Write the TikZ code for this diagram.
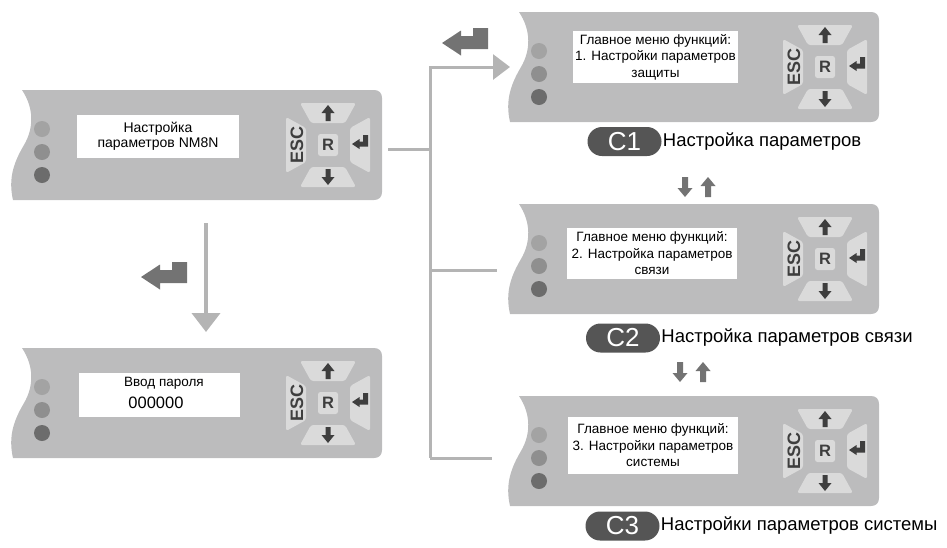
\documentclass[tikz,border=0pt]{standalone}
\usepackage{fontspec}
\setmainfont{Liberation Sans}
\usetikzlibrary{arrows.meta,shapes.misc}

\definecolor{panelgray}{HTML}{BCBCBD}
\definecolor{keygray}{HTML}{DADADA}
\definecolor{glyphgray}{HTML}{3E3E3E}
\definecolor{dotA}{HTML}{A3A3A3}
\definecolor{dotB}{HTML}{8F8F8F}
\definecolor{dotC}{HTML}{6C6C6C}
\definecolor{wiregray}{HTML}{B4B4B4}
\definecolor{entergray}{HTML}{737373}
\definecolor{pillgray}{HTML}{555555}

\tikzset{
  pics/keypad/.style={code={
    % four trapezoid keys around the R key
    \fill[keygray, rounded corners=2.5pt] (-28,-42) -- (28,-42) -- (17,-22) -- (-17,-22) -- cycle;
    \fill[keygray, rounded corners=2.5pt] (-28,42) -- (28,42) -- (17,22) -- (-17,22) -- cycle;
    \fill[keygray, rounded corners=2.5pt] (-42,-28) -- (-42,28) -- (-22,17) -- (-22,-17) -- cycle;
    \fill[keygray, rounded corners=2.5pt] (42,-28) -- (42,28) -- (22,17) -- (22,-17) -- cycle;
    \fill[keygray, rounded corners=2.5pt] (-10,-11) rectangle (10,11);
    % key symbols
    \fill[glyphgray] (0,-40) -- (6.5,-32) -- (2.5,-32) -- (2.5,-24) -- (-2.5,-24) -- (-2.5,-32) -- (-6.5,-32) -- cycle;
    \fill[glyphgray] (0,40) -- (6.5,32) -- (2.5,32) -- (2.5,24) -- (-2.5,24) -- (-2.5,32) -- (-6.5,32) -- cycle;
    \fill[glyphgray] (24,-1) -- (31.5,-6) -- (31.5,-3.5) -- (35,-3.5) -- (35,-10) -- (40,-10) -- (40,1.5) -- (31.5,1.5) -- (31.5,4) -- cycle;
    \node[text=glyphgray, rotate=90, inner sep=0pt, font=\fontsize{18}{18}\bfseries\selectfont] at (-31,0) {ESC};
    \node[text=glyphgray, inner sep=0pt, font=\fontsize{16.5}{16.5}\bfseries\selectfont] at (0,0) {R};
  }},
  pics/device/.style={code={
    % housing with the wavy left edge
    \fill[panelgray] (0,0) .. controls (12,18) and (12,38) .. (2,55)
      .. controls (-8,72) and (-14,88) .. (-9,110) -- (352,110)
      .. controls (357,110) and (360,107) .. (360,102) -- (360,8)
      .. controls (360,3) and (357,0) .. (352,0) -- cycle;
    % status lamps
    \fill[dotA] (20,39) circle[radius=8pt];
    \fill[dotB] (20,62) circle[radius=8pt];
    \fill[dotC] (20,85) circle[radius=8pt];
    \pic at (306,55) {keypad};
  }},
  pics/bigenter/.style={code={
    \fill[entergray] (0,0) -- (19,-12.5) -- (19,-7) -- (31,-7) -- (31,-15) -- (46,-15)
      -- (46,6) -- (19,6) -- (19,12.5) -- cycle;
  }},
  pics/downarrow/.style={code={
    \fill[entergray] (0,10) -- (7.5,1) -- (3,1) -- (3,-10) -- (-3,-10) -- (-3,1) -- (-7.5,1) -- cycle;
  }},
  pics/uparrow/.style={code={
    \fill[entergray] (0,-10) -- (7.5,-1) -- (3,-1) -- (3,10) -- (-3,10) -- (-3,-1) -- (-7.5,-1) -- cycle;
  }},
  screen/.style={fill=white, inner sep=0pt, align=center,
    font=\fontsize{13.5}{16.5}\selectfont},
  wire/.style={draw=wiregray, line width=3pt},
  pill/.style={rounded rectangle, fill=pillgray, text=white, minimum width=74pt,
    minimum height=29pt, inner sep=0pt, font=\fontsize{26}{26}\selectfont},
  caption/.style={anchor=west, inner sep=1pt, font=\fontsize{18.5}{20}\selectfont},
}

\begin{document}
\begin{tikzpicture}[x=1pt,y=-1pt]
\useasboundingbox (0,0) rectangle (947,547);

% devices
\pic at (22,90) {device};
\pic at (22,348) {device};
\pic at (519,12) {device};
\pic at (519,204) {device};
\pic at (519,396) {device};

% displays
\node[screen, minimum width=162pt, minimum height=43pt, font=\fontsize{14}{14.5}\selectfont]
  (scrA) at (158,136.5) {Настройка\\параметров NM8N};
\node[screen, minimum width=161pt, minimum height=44pt] (scrB) at (159.5,395) {};
\node[inner sep=0pt, font=\fontsize{13.5}{14}\selectfont] (pwlabel) at (164,383) {Ввод пароля};
\node[inner sep=0pt, font=\fontsize{16.5}{17}\selectfont] (pwvalue) at (156,403) {000000};
\node[screen, minimum width=165pt, minimum height=52pt] (scrC1) at (655.5,57)
  {Главное меню функций:\\1. Настройки параметров\\защиты};
\node[screen, minimum width=170pt, minimum height=51pt] (scrC2) at (652,253.5)
  {Главное меню функций:\\2. Настройка параметров\\связи};
\node[screen, minimum width=170pt, minimum height=57pt] (scrC3) at (653,445.5)
  {Главное меню функций:\\3. Настройки параметров\\системы};

% menu captions
\node[pill] (c1) at (624.5,141.5) {C1};
\node[caption] (c1text) at (c1.east) {Настройка параметров};
\node[pill] (c2) at (623,338) {C2};
\node[caption] (c2text) at (c2.east) {Настройка параметров связи};
\node[pill] (c3) at (622.5,526) {C3};
\node[caption] (c3text) at (c3.east) {Настройки параметров системы};

% connectors
\coordinate (aOut) at (388,149);
\coordinate (jA) at (430,149);
\coordinate (tTop) at (430,67);
\coordinate (tTip) at (510,67);
\coordinate (jC2) at (430,270);
\coordinate (eC2) at (497,270);
\coordinate (tBot) at (430,458);
\coordinate (eC3) at (492,458);
\draw[wire] (aOut) -- (jA);
\draw[wire, -{Triangle[length=17pt,width=25pt]}] (tBot) -- (tTop) -- (tTip);
\draw[wire] (jC2) -- (eC2);
\draw[wire] (tBot) -- (eC3);

\coordinate (dStart) at (206,223);
\coordinate (dEnd) at (206,332);
\draw[wire, line width=4pt, -{Triangle[length=19pt,width=28pt]}] (dStart) -- (dEnd);

% enter key hints
\pic at (141,277) {bigenter};
\pic at (442,43) {bigenter};

% scrolling hints
\pic at (685,187) {downarrow};
\pic at (708,187) {uparrow};
\pic at (680,372) {downarrow};
\pic at (703,372) {uparrow};
\end{tikzpicture}
\end{document}
